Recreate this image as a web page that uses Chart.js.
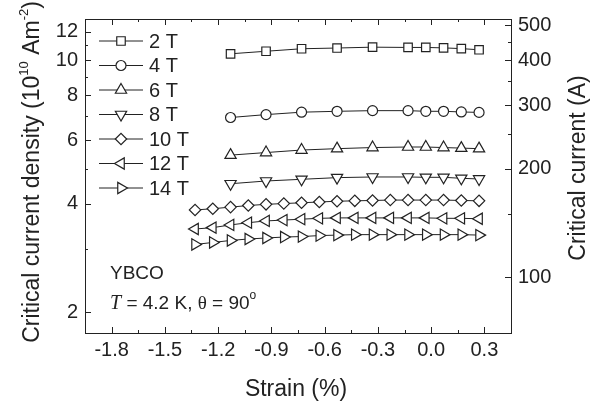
<!DOCTYPE html>
<html>
<head>
<meta charset="utf-8">
<script src="https://cdn.jsdelivr.net/npm/chart.js@4.4.1/dist/chart.umd.min.js"></script>
<style>
    body { margin: 0; background: #fff; }
    canvas { display: block; }
</style>
</head>
<body>
<canvas id="chart" width="597" height="405"></canvas>
<script>
// Strain points (%)
const strainLowField = [-1.13, -0.93, -0.73, -0.53, -0.33, -0.13, -0.03, 0.07, 0.17, 0.27];
const strainHighField = [-1.33, -1.23, -1.13, -1.03, -0.93, -0.83, -0.73, -0.63, -0.53,
    -0.43, -0.33, -0.23, -0.13, -0.03, 0.07, 0.17, 0.27];

// Critical current density (10^10 A/m^2)
const jc2T = [10.41, 10.58, 10.75, 10.80, 10.86, 10.84, 10.84, 10.81, 10.76, 10.68];
const jc4T = [6.93, 7.06, 7.17, 7.21, 7.24, 7.24, 7.21, 7.21, 7.18, 7.16];
const jc6T = [5.45, 5.54, 5.63, 5.68, 5.72, 5.74, 5.74, 5.72, 5.70, 5.68];
const jc8T = [4.54, 4.62, 4.67, 4.72, 4.74, 4.74, 4.73, 4.73, 4.70, 4.68];
const jc10T = [3.84, 3.87, 3.91, 3.95, 3.98, 4.00, 4.02, 4.04, 4.06, 4.07, 4.08, 4.09, 4.09, 4.09, 4.09, 4.08, 4.07];
const jc12T = [3.40, 3.43, 3.49, 3.54, 3.58, 3.60, 3.62, 3.64, 3.65, 3.65, 3.65, 3.65, 3.65, 3.65, 3.64, 3.64, 3.63];
const jc14T = [3.08, 3.12, 3.16, 3.19, 3.21, 3.23, 3.24, 3.26, 3.27, 3.28, 3.28, 3.28, 3.28, 3.28, 3.28, 3.28, 3.27];

const fieldLabels = ['2 T', '4 T', '6 T', '8 T', '10 T', '12 T', '14 T'];

// Tick labels
const xTicks = [-1.8, -1.5, -1.2, -0.9, -0.6, -0.3, 0.0, 0.3];
const xMinorTicks = [-1.65, -1.35, -1.05, -0.75, -0.45, -0.15, 0.15];
const jcTicks = [2, 4, 6, 8, 10, 12];
const jcMinorTicks = [3, 5, 7, 9, 11];
const icTicks = [100, 200, 300, 400, 500];
const icMinorTicks = [150, 250, 350, 450];

const FONT = '"Liberation Sans", Arial, sans-serif';
const INK = '#222';

// marker per field
const markers = [
    { style: 'rect', rot: 0, r: 6 },
    { style: 'circle', rot: 0, r: 5 },
    { style: 'triangle', rot: 0, r: 6.5 },
    { style: 'triangle', rot: 180, r: 6.5 },
    { style: 'rectRot', rot: 0, r: 5.7 },
    { style: 'triangle', rot: 270, r: 6.5 },
    { style: 'triangle', rot: 90, r: 6.5 }
];

const series = [
    [strainLowField, jc2T], [strainLowField, jc4T], [strainLowField, jc6T], [strainLowField, jc8T],
    [strainHighField, jc10T], [strainHighField, jc12T], [strainHighField, jc14T]
];

const datasets = series.map(([xs, ys], i) => ({
    label: fieldLabels[i],
    data: xs.map((x, k) => ({ x: x, y: ys[k] })),
    borderColor: INK,
    borderWidth: 1,
    pointStyle: markers[i].style,
    pointRotation: markers[i].rot,
    pointRadius: markers[i].r,
    pointBorderWidth: 1.2,
    pointBackgroundColor: '#fff',
    pointBorderColor: INK,
    yAxisID: 'y'
}));

function fixTicks(values) {
    return scale => { scale.ticks = values.map(v => ({ value: v })); };
}

// frame, inward ticks, legend, titles and notes
const decorations = {
    id: 'decorations',
    afterDraw(chart) {
        const { ctx, chartArea: a, scales } = chart;
        const x = scales.x, y = scales.y, y2 = scales.y2;
        ctx.save();
        ctx.strokeStyle = INK;
        ctx.fillStyle = INK;
        ctx.lineWidth = 1;
        ctx.strokeRect(a.left + 0.5, a.top + 0.5, a.width, a.height);

        ctx.beginPath();
        const xTick = (v, len) => {
            const px = Math.round(x.getPixelForValue(v)) + 0.5;
            ctx.moveTo(px, a.bottom); ctx.lineTo(px, a.bottom - len);
            ctx.moveTo(px, a.top); ctx.lineTo(px, a.top + len);
        };
        xTicks.forEach(v => xTick(v, 6));
        xMinorTicks.forEach(v => xTick(v, 3));
        const yTick = (scale, v, len, side) => {
            const py = Math.round(scale.getPixelForValue(v)) + 0.5;
            if (side === 'left') { ctx.moveTo(a.left, py); ctx.lineTo(a.left + len, py); }
            else { ctx.moveTo(a.right, py); ctx.lineTo(a.right - len, py); }
        };
        jcTicks.forEach(v => yTick(y, v, 6, 'left'));
        jcMinorTicks.forEach(v => yTick(y, v, 3, 'left'));
        icTicks.forEach(v => yTick(y2, v, 6, 'right'));
        icMinorTicks.forEach(v => yTick(y2, v, 3, 'right'));
        ctx.stroke();

        // legend
        ctx.font = '20px ' + FONT;
        ctx.textBaseline = 'middle';
        ctx.textAlign = 'left';
        fieldLabels.forEach((lab, i) => {
            const ly = 41 + i * 24.5;
            ctx.beginPath();
            ctx.moveTo(99, ly); ctx.lineTo(143, ly);
            ctx.stroke();
            ctx.fillStyle = '#fff';
            ctx.lineWidth = 1.2;
            Chart.helpers.drawPoint(ctx, {
                pointStyle: markers[i].style, rotation: markers[i].rot,
                radius: markers[i].r, borderWidth: 1.2
            }, 121, ly);
            ctx.lineWidth = 1;
            ctx.fillStyle = INK;
            ctx.fillText(lab, 149, ly + 1);
        });

        // notes
        ctx.font = '19px ' + FONT;
        ctx.fillText('YBCO', 110, 274);
        let cx = 110;
        const ny = 304;
        const part = (txt, font, dy) => {
            ctx.font = font;
            ctx.fillText(txt, cx, ny + (dy || 0));
            cx += ctx.measureText(txt).width;
        };
        part('T', 'italic 20px "Liberation Serif", "Times New Roman", serif');
        part(' = 4.2 K, ', '19px ' + FONT);
        part('θ', '19px "Liberation Serif", "Times New Roman", serif');
        part(' = 90', '19px ' + FONT);
        part('o', '12px ' + FONT, -8);

        // axis titles
        ctx.font = '23px ' + FONT;
        ctx.textAlign = 'center';
        ctx.fillText('Strain (%)', 296, 390);

        ctx.save();
        ctx.translate(579, 168);
        ctx.rotate(-Math.PI / 2);
        ctx.fillText('Critical current (A)', 0, 0);
        ctx.restore();

        const parts = [
            ['Critical current density (10', 23, 0],
            ['10', 13, -9],
            [' Am', 23, 0],
            ['-2', 13, -9],
            [')', 23, 0]
        ];
        let total = 0;
        parts.forEach(p => { ctx.font = p[1] + 'px ' + FONT; total += ctx.measureText(p[0]).width; });
        ctx.save();
        ctx.translate(33, 172);
        ctx.rotate(-Math.PI / 2);
        ctx.textAlign = 'left';
        let tx = -total / 2;
        parts.forEach(p => {
            ctx.font = p[1] + 'px ' + FONT;
            ctx.fillText(p[0], tx, p[2]);
            tx += ctx.measureText(p[0]).width;
        });
        ctx.restore();

        ctx.restore();
    }
};

new Chart(document.getElementById('chart'), {
    type: 'line',
    data: { datasets: datasets },
    options: {
        responsive: false,
        animation: false,
        layout: { padding: { top: 17, left: 0, right: 0, bottom: 0 } },
        plugins: { legend: { display: false }, tooltip: { enabled: false } },
        scales: {
            x: {
                type: 'linear',
                position: 'bottom',
                min: -1.95,
                max: 0.45,
                afterBuildTicks: fixTicks(xTicks),
                afterFit: s => { s.height = 72; },
                grid: { display: false, drawTicks: false },
                border: { display: false },
                ticks: {
                    color: INK,
                    padding: 5,
                    maxRotation: 0,
                    font: { family: FONT, size: 20 },
                    callback: v => v.toFixed(1)
                }
            },
            y: {
                type: 'logarithmic',
                position: 'left',
                min: 1.75,
                max: 13,
                afterBuildTicks: fixTicks(jcTicks),
                afterFit: s => { s.width = 85; },
                grid: { display: false, drawTicks: false },
                border: { display: false },
                ticks: {
                    color: INK,
                    padding: 7,
                    font: { family: FONT, size: 20 },
                    callback: v => String(v)
                }
            },
            y2: {
                type: 'logarithmic',
                position: 'right',
                min: 70,
                max: 520,
                afterBuildTicks: fixTicks(icTicks),
                afterFit: s => { s.width = 86; },
                grid: { display: false, drawTicks: false },
                border: { display: false },
                ticks: {
                    color: INK,
                    padding: 7,
                    font: { family: FONT, size: 20 },
                    callback: v => String(v)
                }
            }
        }
    },
    plugins: [decorations]
});
</script>
</body>
</html>
